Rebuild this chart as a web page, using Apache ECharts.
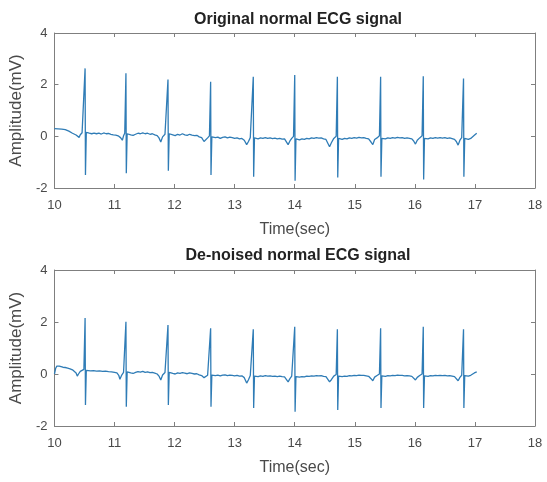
<!DOCTYPE html>
<html>
<head>
<meta charset="utf-8">
<script src="https://cdn.jsdelivr.net/npm/echarts@6/dist/echarts.min.js"></script>
<style>
  html, body { margin: 0; padding: 0; background: #fff; }
  #chart { width: 547px; height: 482px; }
</style>
</head>
<body>
<div id="chart"></div>
<script>
// R peak / S trough times (sec)
var rTimes = [10.51, 11.19, 11.89, 12.60, 13.31, 14.00, 14.71, 15.43, 16.14, 16.81];
var sTimes = [10.516, 11.196, 11.896, 12.606, 13.316, 14.006, 14.716, 15.436, 16.146, 16.816];

// original signal: spike heights (mV)
var origR = [2.63, 2.44, 2.20, 2.11, 2.31, 2.37, 2.31, 2.31, 2.33, 2.24];
var origS = [-1.50, -1.43, -1.33, -1.50, -1.56, -1.72, -1.59, -1.56, -1.67, -1.56];

// de-noised signal: spike heights (mV)
var denR = [2.15, 2.01, 1.88, 1.76, 1.72, 1.82, 1.72, 1.76, 1.82, 1.72];
var denS = [-1.19, -1.26, -1.19, -1.26, -1.31, -1.45, -1.38, -1.31, -1.31, -1.31];

// baseline between beats [time, mV]
var origBase = [
  [10.00,0.30],[10.03,0.28],[10.06,0.29],[10.09,0.27],[10.12,0.28],[10.15,0.25],[10.18,0.26],[10.21,0.22],[10.24,0.20],[10.27,0.16],[10.30,0.12],[10.33,0.10],[10.36,0.05],[10.39,0.00],[10.41,-0.04],[10.43,0.06],[10.46,0.14],[10.49,0.18],
  [10.53,0.15],[10.58,0.12],[10.62,0.10],[10.66,0.12],[10.70,0.10],[10.74,0.12],[10.78,0.09],[10.82,0.13],[10.86,0.10],[10.90,0.11],[10.94,0.08],[10.98,0.06],[11.02,0.05],[11.06,0.02],[11.10,-0.05],[11.13,-0.15],[11.15,0.02],[11.17,0.12],
  [11.21,0.10],[11.27,0.06],[11.31,0.04],[11.35,0.08],[11.39,0.12],[11.43,0.10],[11.47,0.13],[11.51,0.10],[11.55,0.12],[11.59,0.08],[11.63,0.10],[11.67,0.06],[11.71,0.03],[11.74,-0.06],[11.77,-0.22],[11.80,-0.02],[11.84,0.08],[11.87,0.14],
  [11.91,0.10],[11.97,0.06],[12.01,0.03],[12.05,0.08],[12.09,0.05],[12.13,0.10],[12.17,0.06],[12.21,0.04],[12.25,0.08],[12.29,0.05],[12.33,0.03],[12.37,0.04],[12.41,-0.02],[12.45,-0.05],[12.49,-0.20],[12.52,-0.22],[12.55,-0.06],[12.58,0.02],
  [12.62,-0.02],[12.68,-0.05],[12.72,-0.03],[12.76,-0.08],[12.80,-0.04],[12.84,-0.02],[12.88,-0.06],[12.92,-0.03],[12.96,-0.05],[13.00,-0.08],[13.04,-0.06],[13.08,-0.10],[13.12,-0.08],[13.16,-0.15],[13.20,-0.32],[13.23,-0.20],[13.26,-0.05],[13.29,0.02],
  [13.33,-0.06],[13.39,-0.10],[13.43,-0.06],[13.47,-0.08],[13.51,-0.05],[13.55,-0.08],[13.59,-0.06],[13.63,-0.09],[13.67,-0.07],[13.71,-0.10],[13.75,-0.08],[13.79,-0.11],[13.83,-0.10],[13.86,-0.16],[13.89,-0.32],[13.92,-0.18],[13.95,-0.08],[13.98,0.00],
  [14.02,-0.10],[14.08,-0.14],[14.12,-0.10],[14.16,-0.12],[14.20,-0.08],[14.24,-0.10],[14.28,-0.06],[14.32,-0.08],[14.36,-0.05],[14.40,-0.07],[14.44,-0.06],[14.48,-0.10],[14.52,-0.12],[14.55,-0.18],[14.58,-0.40],[14.61,-0.25],[14.65,-0.08],[14.69,0.00],
  [14.73,-0.08],[14.79,-0.12],[14.83,-0.08],[14.87,-0.10],[14.91,-0.06],[14.95,-0.08],[14.99,-0.05],[15.03,-0.07],[15.07,-0.04],[15.11,-0.06],[15.15,-0.05],[15.19,-0.08],[15.23,-0.10],[15.27,-0.22],[15.30,-0.32],[15.33,-0.12],[15.37,-0.06],[15.41,0.02],
  [15.45,-0.08],[15.51,-0.10],[15.55,-0.06],[15.59,-0.08],[15.63,-0.05],[15.67,-0.07],[15.71,-0.04],[15.75,-0.06],[15.79,-0.05],[15.83,-0.08],[15.87,-0.06],[15.91,-0.08],[15.95,-0.10],[15.98,-0.18],[16.01,-0.30],[16.04,-0.15],[16.08,-0.06],[16.12,0.02],
  [16.16,-0.08],[16.22,-0.10],[16.26,-0.06],[16.30,-0.08],[16.34,-0.05],[16.38,-0.07],[16.42,-0.05],[16.46,-0.07],[16.50,-0.05],[16.54,-0.08],[16.58,-0.06],[16.62,-0.09],[16.66,-0.12],[16.69,-0.20],[16.72,-0.34],[16.75,-0.15],[16.78,-0.05],[16.80,0.02],
  [16.83,-0.08],[16.89,-0.12],[16.93,-0.08],[16.96,-0.02],[16.99,0.04],[17.01,0.08],[17.03,0.12]
];

var denBase = [
  [10.00,0.00],[10.02,0.22],[10.04,0.30],[10.06,0.34],[10.08,0.30],[10.11,0.28],[10.14,0.26],[10.18,0.25],[10.22,0.23],[10.26,0.20],[10.30,0.16],[10.33,0.12],[10.36,0.04],[10.38,-0.08],[10.40,0.00],[10.43,0.10],[10.46,0.15],[10.49,0.18],
  [10.53,0.14],[10.60,0.12],[10.65,0.13],[10.70,0.11],[10.75,0.12],[10.80,0.10],[10.85,0.11],[10.90,0.09],[10.95,0.08],[11.00,0.06],[11.04,0.04],[11.07,-0.05],[11.09,-0.20],[11.12,-0.04],[11.15,0.06],[11.17,0.10],
  [11.21,0.08],[11.27,0.04],[11.31,0.02],[11.35,0.06],[11.39,0.09],[11.43,0.07],[11.47,0.10],[11.51,0.06],[11.55,0.08],[11.59,0.05],[11.63,0.06],[11.67,0.03],[11.71,0.00],[11.74,-0.08],[11.77,-0.23],[11.80,-0.04],[11.84,0.06],[11.87,0.10],
  [11.91,0.06],[11.97,0.02],[12.01,0.00],[12.05,0.04],[12.09,0.02],[12.13,0.05],[12.17,0.03],[12.21,0.01],[12.25,0.04],[12.29,0.02],[12.33,0.00],[12.37,0.01],[12.41,-0.03],[12.45,-0.06],[12.49,-0.14],[12.52,-0.15],[12.55,-0.05],[12.58,0.00],
  [12.62,-0.04],[12.68,-0.06],[12.72,-0.04],[12.76,-0.07],[12.80,-0.04],[12.84,-0.03],[12.88,-0.06],[12.92,-0.04],[12.96,-0.05],[13.00,-0.07],[13.04,-0.05],[13.08,-0.08],[13.12,-0.07],[13.16,-0.14],[13.20,-0.35],[13.23,-0.22],[13.26,-0.06],[13.29,0.00],
  [13.33,-0.08],[13.39,-0.10],[13.43,-0.07],[13.47,-0.09],[13.51,-0.06],[13.55,-0.08],[13.59,-0.07],[13.63,-0.09],[13.67,-0.08],[13.71,-0.10],[13.75,-0.08],[13.79,-0.10],[13.83,-0.11],[13.86,-0.16],[13.89,-0.30],[13.92,-0.18],[13.95,-0.08],[13.98,-0.02],
  [14.02,-0.10],[14.08,-0.12],[14.12,-0.10],[14.16,-0.11],[14.20,-0.08],[14.24,-0.09],[14.28,-0.07],[14.32,-0.08],[14.36,-0.06],[14.40,-0.07],[14.44,-0.06],[14.48,-0.09],[14.52,-0.10],[14.55,-0.15],[14.58,-0.30],[14.61,-0.22],[14.65,-0.08],[14.69,-0.02],
  [14.73,-0.08],[14.79,-0.10],[14.83,-0.08],[14.87,-0.09],[14.91,-0.06],[14.95,-0.07],[14.99,-0.05],[15.03,-0.06],[15.07,-0.04],[15.11,-0.05],[15.15,-0.05],[15.19,-0.07],[15.23,-0.09],[15.27,-0.18],[15.30,-0.26],[15.33,-0.12],[15.37,-0.06],[15.41,0.00],
  [15.45,-0.07],[15.51,-0.09],[15.55,-0.06],[15.59,-0.07],[15.63,-0.05],[15.67,-0.06],[15.71,-0.04],[15.75,-0.05],[15.79,-0.05],[15.83,-0.07],[15.87,-0.06],[15.91,-0.07],[15.95,-0.09],[15.98,-0.15],[16.01,-0.23],[16.04,-0.13],[16.08,-0.06],[16.12,0.00],
  [16.16,-0.07],[16.22,-0.09],[16.26,-0.06],[16.30,-0.07],[16.34,-0.05],[16.38,-0.06],[16.42,-0.05],[16.46,-0.06],[16.50,-0.05],[16.54,-0.07],[16.58,-0.06],[16.62,-0.08],[16.66,-0.10],[16.69,-0.16],[16.72,-0.26],[16.75,-0.13],[16.78,-0.05],[16.80,0.00],
  [16.83,-0.06],[16.89,-0.08],[16.93,-0.05],[16.96,0.00],[16.99,0.04],[17.01,0.06],[17.03,0.08]
];

var xTicks = [10, 18, 1];   // min, max, step
var yTicks = [-2, 4, 2];
var titles = ['Original normal ECG signal', 'De-noised normal ECG signal'];

// put the R and S points into the baseline, in time order
function buildSignal(base, peaks, troughs) {
  var pts = base.slice();
  for (var i = 0; i < rTimes.length; i++) {
    pts.push([rTimes[i], peaks[i]]);
    pts.push([sTimes[i], troughs[i]]);
  }
  pts.sort(function (a, b) { return a[0] - b[0]; });
  return pts;
}

var boxColor = '#7f7f7f';
var labelColor = '#4a4a4a';
var fontFam = '"Liberation Sans", Arial, sans-serif';

function xAxes(gi) {
  return [{
    gridIndex: gi, type: 'value', min: xTicks[0], max: xTicks[1], interval: xTicks[2],
    name: 'Time(sec)', nameLocation: 'middle', nameGap: 34,
    nameTextStyle: { color: labelColor, fontSize: 16, fontFamily: fontFam },
    axisLine: { onZero: false, lineStyle: { color: boxColor, width: 1 } },
    axisTick: { inside: true, length: 4, lineStyle: { color: boxColor } },
    axisLabel: { margin: 11, color: labelColor, fontSize: 13, fontFamily: fontFam },
    splitLine: { show: false }
  }, {
    gridIndex: gi, type: 'value', position: 'top', min: xTicks[0], max: xTicks[1], interval: xTicks[2],
    axisLine: { onZero: false, lineStyle: { color: boxColor, width: 1 } },
    axisTick: { inside: true, length: 4, lineStyle: { color: boxColor } },
    axisLabel: { show: false },
    splitLine: { show: false }
  }];
}

function yAxes(gi) {
  return [{
    gridIndex: gi, type: 'value', min: yTicks[0], max: yTicks[1], interval: yTicks[2],
    name: 'Amplitude(mV)', nameLocation: 'middle', nameGap: 26,
    nameTextStyle: { color: labelColor, fontSize: 17, fontFamily: fontFam },
    axisLine: { show: true, onZero: false, lineStyle: { color: boxColor, width: 1 } },
    axisTick: { show: true, inside: true, length: 4, lineStyle: { color: boxColor } },
    axisLabel: { margin: 7, color: labelColor, fontSize: 13, fontFamily: fontFam },
    splitLine: { show: false }
  }, {
    gridIndex: gi, type: 'value', position: 'right', min: yTicks[0], max: yTicks[1], interval: yTicks[2],
    axisLine: { show: true, onZero: false, lineStyle: { color: boxColor, width: 1 } },
    axisTick: { show: true, inside: true, length: 4, lineStyle: { color: boxColor } },
    axisLabel: { show: false },
    splitLine: { show: false }
  }];
}

var lineStyle = { color: '#2f7cb6', width: 1.3 };

var chart = echarts.init(document.getElementById('chart'));
chart.setOption({
  animation: false,
  backgroundColor: '#fff',
  title: [
    { text: titles[0], left: 293, top: 7, textAlign: 'center',
      textStyle: { fontSize: 16, fontWeight: 'bold', color: '#222', fontFamily: fontFam } },
    { text: titles[1], left: 293, top: 243, textAlign: 'center',
      textStyle: { fontSize: 16, fontWeight: 'bold', color: '#222', fontFamily: fontFam } }
  ],
  grid: [
    { left: 52, top: 33, width: 483, height: 155 },
    { left: 52, top: 270, width: 483, height: 156 }
  ],
  xAxis: xAxes(0).concat(xAxes(1)),
  yAxis: yAxes(0).concat(yAxes(1)),
  series: [{
    type: 'line', xAxisIndex: 0, yAxisIndex: 0, showSymbol: false, symbol: 'none',
    lineStyle: lineStyle, data: buildSignal(origBase, origR, origS)
  }, {
    type: 'line', xAxisIndex: 2, yAxisIndex: 2, showSymbol: false, symbol: 'none',
    lineStyle: lineStyle, data: buildSignal(denBase, denR, denS)
  }]
});
</script>
</body>
</html>
